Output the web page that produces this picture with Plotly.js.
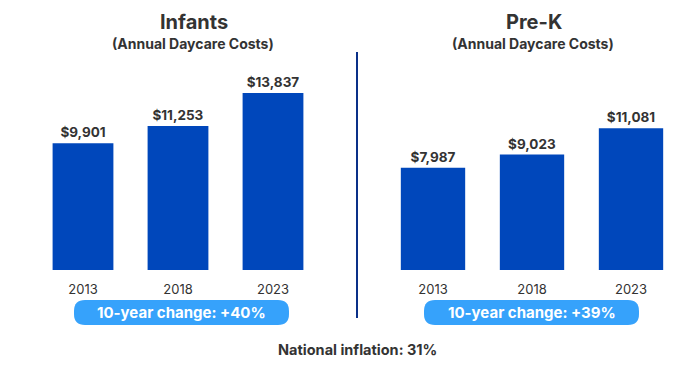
<!DOCTYPE html>
<html><head><meta charset="utf-8">
<script src="https://cdn.plot.ly/plotly-3.0.1.min.js"></script>
<style>html,body{margin:0;padding:0;background:#fff}</style>
</head><body><div id="chart" style="width:689px;height:368px"></div>
<script>
const years = ["2013", "2018", "2023"];
const infantCosts = [9901, 11253, 13837];
const prekCosts = [7987, 9023, 11081];
const infantChange = "10-year change: +40%";
const prekChange = "10-year change: +39%";
const inflationText = "National inflation: 31%";

const W = 689, H = 368;
const px = v => v / W;
const py = v => (H - v) / H;
const barColor = "#0047BB";
const pillColor = "#36A2FB";
const textColor = "#333333";
const font = "Inter, 'Open Sans', sans-serif";

const traces = [
  {type: "bar", x: years, y: infantCosts, xaxis: "x", yaxis: "y", marker: {color: barColor}, width: 0.64,
   text: infantCosts.map(v => "$" + v.toLocaleString("en-US")), textposition: "outside", cliponaxis: false,
   textfont: {family: font, size: 13.5, color: textColor, weight: 700}, hoverinfo: "none"},
  {type: "bar", x: years, y: prekCosts, xaxis: "x2", yaxis: "y2", marker: {color: barColor}, width: 0.65,
   text: prekCosts.map(v => "$" + v.toLocaleString("en-US")), textposition: "outside", cliponaxis: false,
   textfont: {family: font, size: 13.5, color: textColor, weight: 700}, hoverinfo: "none"}
];

function pill(cx, cy, w, h, r) {
  const x0 = -w/2, x1 = w/2, y0 = -h/2, y1 = h/2;
  const path = `M ${x0+r} ${y0} L ${x1-r} ${y0} Q ${x1} ${y0} ${x1} ${y0+r} L ${x1} ${y1-r} Q ${x1} ${y1} ${x1-r} ${y1} L ${x0+r} ${y1} Q ${x0} ${y1} ${x0} ${y1-r} L ${x0} ${y0+r} Q ${x0} ${y0} ${x0+r} ${y0} Z`;
  return {type: "path", xref: "paper", yref: "paper", xsizemode: "pixel", ysizemode: "pixel",
    xanchor: px(cx), yanchor: py(cy), path: path, fillcolor: pillColor, line: {width: 0}, layer: "below"};
}

const yTop = 16000;
const yDomTop = py(270 - yTop * 0.01279);
const axisY = {range: [0, yTop], domain: [py(270), yDomTop], visible: false, fixedrange: true};
const axisX = (d) => ({domain: d, type: "category", range: [-0.5, 2.5], showgrid: false, zeroline: false,
  showline: false, ticks: "", ticklabelstandoff: 10, tickfont: {family: font, size: 13, color: textColor}, fixedrange: true});

function ann(text, x, y, size, color) {
  return {text: text, x: px(x), y: py(y), xref: "paper", yref: "paper", xanchor: "center", yanchor: "middle",
    showarrow: false, font: {family: font, size: size, color: color, weight: 700}};
}

const layout = {
  width: W, height: H, margin: {l: 0, r: 0, t: 0, b: 0},
  paper_bgcolor: "#fff", plot_bgcolor: "#fff", showlegend: false,
  xaxis: axisX([px(35.5), px(320.5)]),
  xaxis2: axisX([px(383.5), px(680.5)]),
  yaxis: Object.assign({anchor: "x"}, axisY),
  yaxis2: Object.assign({anchor: "x2"}, axisY),
  shapes: [
    {type: "line", xref: "paper", yref: "paper", x0: px(357), x1: px(357), y0: py(52), y1: py(318),
     line: {color: "#0A3088", width: 2}},
    pill(181.5, 312.5, 215, 25, 11),
    pill(531.5, 312.5, 215, 25, 11)
  ],
  annotations: [
    ann("Infants", 194, 22, 20, textColor),
    ann("(Annual Daycare Costs)", 193, 44, 14, textColor),
    ann("Pre-K", 534, 22, 20, textColor),
    ann("(Annual Daycare Costs)", 533, 44, 14, textColor),
    ann(infantChange, 181.5, 312.5, 15, "#ffffff"),
    ann(prekChange, 531.5, 312.5, 15, "#ffffff"),
    ann(inflationText, 357, 349, 14.5, textColor)
  ]
};

Plotly.newPlot("chart", traces, layout, {displayModeBar: false, staticPlot: true});
</script></body></html>
